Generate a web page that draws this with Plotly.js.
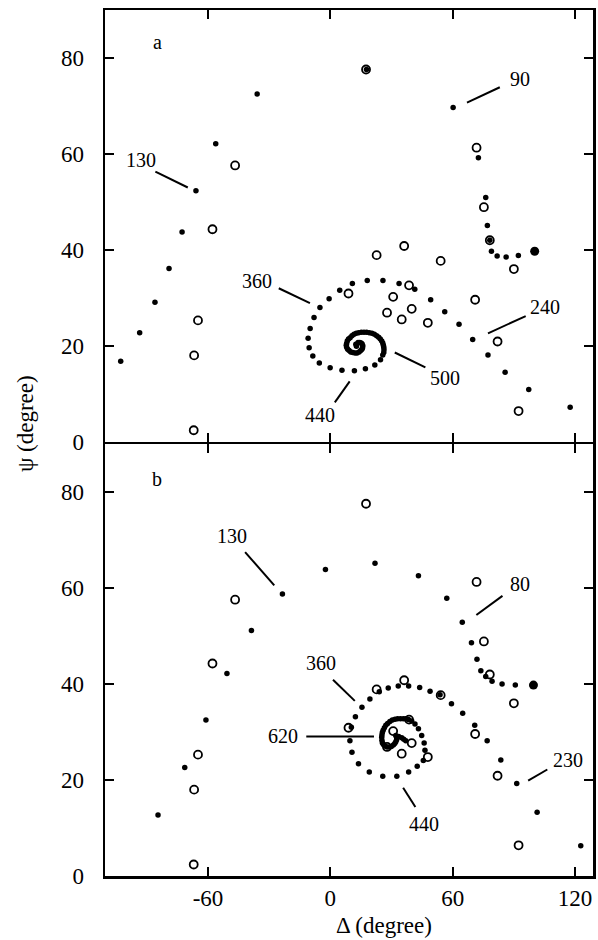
<!DOCTYPE html>
<html>
<head>
<meta charset="utf-8">
<script src="https://cdn.plot.ly/plotly-3.0.1.min.js"></script>
<style>html,body{margin:0;padding:0;background:#fff;}#chart{width:598px;height:940px;}</style>
</head>
<body>
<div id="chart"></div>
<script>
// Reference (open circles), identical in both panels
var refDelta = [17.5, -46.7, -57.8, -64.9, -66.8, -67.0, 71.7, 75.3, 78.2, 22.7, 36.2, 54.1, 90.0, 8.9, 30.8, 38.6, 27.8, 39.9, 35.0, 47.8, 71.0, 82.0, 92.3];
var refPsi   = [77.6, 57.6, 44.3, 25.3, 18.0, 2.4, 61.3, 48.9, 42.0, 38.9, 40.8, 37.7, 36.0, 30.9, 30.2, 32.6, 26.9, 27.7, 25.5, 24.8, 29.6, 20.9, 6.4];

// Panel a trajectory (filled dots)
var startADelta = [100.2];
var startAPsi = [39.7];
var trajADelta = [92.2, 86.2, 81.8, 79.0, 78.2, 77.0, 76.2, 72.6, 60.2, 17.7, -35.9, -56.2, -65.9, -72.7, -79.1, -86.0, -93.5, -102.8,
  117.6, 97.3, 85.7, 77.3, 69.8, 63.1, 56.1, 49.2, 41.4, 33.7, 25.8, 18.1, 10.8, 4.6, -0.6, -5.1, -8.0, -9.9, -10.9, -10.4, -8.6, -5.4, -0.1, 5.7, 11.8, 17.2, 21.8, 24.6,
  25.7, 26.2, 26.3, 26.2, 26.0, 25.7, 25.2, 24.5, 23.7, 22.7, 21.6, 20.4, 19.1, 17.8, 16.5, 15.2, 13.9, 12.7, 11.6, 10.6, 9.7, 8.9, 8.3, 8.0, 7.8, 8.0, 8.5, 9.2, 10.0, 11.0, 12.1, 13.1, 14.1, 14.9, 15.5, 15.8, 15.9, 15.6, 15.1, 14.4, 13.6, 12.5, 12.8];
var trajAPsi = [38.8, 38.5, 38.7, 39.7, 42.0, 45.1, 50.9, 59.2, 69.7, 77.6, 72.5, 62.1, 52.3, 43.7, 36.1, 29.1, 22.7, 16.8,
  7.2, 10.9, 14.5, 18.1, 21.3, 24.5, 27.1, 29.6, 31.8, 33.0, 33.6, 33.6, 33.0, 31.6, 29.8, 28.0, 25.9, 23.6, 21.6, 19.6, 17.9, 16.4, 15.4, 14.9, 14.8, 15.2, 16.0, 17.1,
  18.1, 18.6, 19.2, 19.7, 20.1, 20.6, 21.0, 21.4, 21.8, 22.1, 22.4, 22.6, 22.7, 22.8, 22.8, 22.8, 22.7, 22.6, 22.4, 22.1, 21.7, 21.4, 21.0, 20.5, 20.1, 19.7, 19.3, 19.0, 18.7, 18.6, 18.5, 18.5, 18.7, 19.0, 19.3, 19.6, 20.0, 20.4, 20.6, 20.7, 20.7, 20.3, 19.9];

// Panel b trajectory (filled dots)
var startBDelta = [99.6];
var startBPsi = [39.8];
var trajBDelta = [90.7, 84.2, 79.3, 76.2, 73.8, 71.9, 69.2, 64.7, 57.1, 43.2, 21.9, -2.4, -23.5, -38.7, -50.7, -61.0, -71.4, -84.5,
  122.8, 101.4, 91.4, 83.6, 76.9, 70.8, 64.9, 59.4, 53.8, 48.9, 43.8, 38.4, 33.3, 28.4, 24.0, 19.4, 15.5, 12.3, 10.3, 9.6, 10.6, 13.8, 19.1, 25.7, 32.6, 38.4, 42.6, 45.6, 46.4, 46.0, 44.8, 43.2, 41.5,
  39.9, 38.3, 37.0, 35.8, 34.4, 33.0, 31.7, 30.4, 29.2, 28.1, 27.2, 26.5, 25.9, 25.5, 25.3, 25.2, 25.3, 25.5, 26.0, 26.8, 27.8, 28.8, 29.9, 30.9, 31.6, 32.1, 32.5, 32.6, 32.4, 32.1, 33.5, 35.0, 36.0, 37.0];
var trajBPsi = [39.8, 40.0, 40.6, 41.6, 42.8, 45.2, 48.6, 52.9, 57.9, 62.6, 65.2, 63.9, 58.8, 51.2, 42.2, 32.5, 22.6, 12.7,
  6.3, 13.3, 19.3, 24.2, 28.2, 31.4, 33.9, 35.9, 37.8, 38.5, 39.3, 39.6, 39.6, 39.2, 38.4, 36.9, 35.2, 33.2, 31.0, 28.2, 25.8, 23.4, 21.7, 20.8, 20.8, 21.7, 22.9, 24.1, 26.2, 27.7, 29.3, 30.7, 31.7,
  32.3, 32.6, 32.8, 32.8, 32.8, 32.8, 32.7, 32.5, 32.2, 31.8, 31.4, 30.9, 30.4, 29.9, 29.4, 28.9, 28.3, 27.8, 27.4, 27.1, 26.9, 26.9, 27.0, 27.3, 27.6, 28.0, 28.4, 28.7, 29.1, 29.3, 29.1, 28.8, 28.5, 28.2];

// Step labels: text, position, leader line
var labelsA = ["90", "130", "360", "240", "500", "440"];
var labelAX = [92.9, -93.0, -36.1, 105.1, 56.1, -5.2];
var labelAY = [75.7, 58.8, 33.6, 28.1, 13.2, 5.6];
var leadAX0 = [67.0, -85.8, -25.3, 77.3, 31.6, 2.2];
var leadAY0 = [70.7, 56.3, 32.0, 22.6, 18.6, 8.2];
var leadAX1 = [83.1, -69.9, -10.0, 95.8, 46.6, 9.5];
var leadAY1 = [73.9, 53.0, 28.9, 26.2, 15.5, 12.6];

var labelsB = ["130", "620", "360", "80", "230", "440"];
var labelBX = [-48.4, -23.0, -4.7, 92.9, 116.6, 46.0];
var labelBY = [70.8, 29.1, 44.3, 60.9, 24.2, 10.9];
var leadBX0 = [-41.8, -11.8, 1.3, 71.6, 97.0, 35.7];
var leadBY0 = [67.5, 29.1, 40.9, 54.4, 19.9, 18.4];
var leadBX1 = [-27.5, 21.4, 12.0, 84.4, 106.4, 41.7];
var leadBY1 = [60.6, 29.1, 36.5, 58.4, 22.2, 14.4];

var xTicks = [-60, 0, 60, 120];
var yTicks = [0, 20, 40, 60, 80];

var FONT = "Liberation Serif, Times New Roman, serif";

function dots(x, y, xa, ya, size) {
  return {x: x, y: y, xaxis: xa, yaxis: ya, type: 'scatter', mode: 'markers', hoverinfo: 'skip',
    marker: {color: '#000', size: size, line: {width: 0}}, showlegend: false};
}
function rings(x, y, xa, ya) {
  return {x: x, y: y, xaxis: xa, yaxis: ya, type: 'scatter', mode: 'markers', hoverinfo: 'skip',
    marker: {symbol: 'circle-open', color: '#000', size: 8, line: {width: 1.8, color: '#000'}}, showlegend: false};
}

var data = [
  dots(trajADelta, trajAPsi, 'x2', 'y2', 5.5),
  dots(startADelta, startAPsi, 'x2', 'y2', 9),
  rings(refDelta, refPsi, 'x2', 'y2'),
  dots(trajBDelta, trajBPsi, 'x', 'y', 5.5),
  dots(startBDelta, startBPsi, 'x', 'y', 9),
  rings(refDelta, refPsi, 'x', 'y')
];

var shapes = [];
var annotations = [];
for (var i = 0; i < labelsA.length; i++) {
  shapes.push({type: 'line', xref: 'x2', yref: 'y2', x0: leadAX0[i], y0: leadAY0[i], x1: leadAX1[i], y1: leadAY1[i], line: {color: '#000', width: 2}});
  annotations.push({xref: 'x2', yref: 'y2', x: labelAX[i], y: labelAY[i], text: labelsA[i], showarrow: false, font: {family: FONT, size: 20, color: '#000'}});
}
for (var j = 0; j < labelsB.length; j++) {
  shapes.push({type: 'line', xref: 'x', yref: 'y', x0: leadBX0[j], y0: leadBY0[j], x1: leadBX1[j], y1: leadBY1[j], line: {color: '#000', width: 2}});
  annotations.push({xref: 'x', yref: 'y', x: labelBX[j], y: labelBY[j], text: labelsB[j], showarrow: false, font: {family: FONT, size: 20, color: '#000'}});
}
annotations.push({xref: 'x2', yref: 'y2', x: -85, y: 83.3, text: 'a', showarrow: false, font: {family: FONT, size: 20, color: '#000'}});
annotations.push({xref: 'x', yref: 'y', x: -85, y: 82.8, text: 'b', showarrow: false, font: {family: FONT, size: 20, color: '#000'}});
annotations.push({xref: 'paper', yref: 'paper', x: 0.572, y: -0.0566, text: 'Δ (degree)', showarrow: false, xanchor: 'center', yanchor: 'middle', font: {family: FONT, size: 23, color: '#000'}});
annotations.push({xref: 'paper', yref: 'paper', x: -0.164, y: 0.523, text: 'ψ (degree)', textangle: -90, showarrow: false, xanchor: 'center', yanchor: 'middle', font: {family: FONT, size: 23, color: '#000'}});

var xRange = [-110.5, 128.8];
var yRange = [0, 90];
var LW = 2.5;
var gap = LW / 866 / 2;
function xax(anchor, labels) {
  return {range: xRange, anchor: anchor, tickvals: xTicks, ticktext: xTicks.map(String), showticklabels: labels,
    ticks: 'inside', ticklen: 9, tickwidth: 2, tickcolor: '#000', showline: true, linewidth: LW, linecolor: '#000',
    mirror: 'ticks', showgrid: false, zeroline: false, ticklabelstandoff: 0,
    tickfont: {family: FONT, size: 23, color: '#000'}, fixedrange: true};
}
function yax(domain, anchor) {
  return {range: yRange, domain: domain, anchor: anchor, tickvals: yTicks, ticktext: yTicks.map(String),
    ticks: 'inside', ticklen: 9, tickwidth: 2, tickcolor: '#000', showline: true, linewidth: LW, linecolor: '#000',
    mirror: 'ticks', showgrid: false, zeroline: false, ticklabelstandoff: 14,
    tickfont: {family: FONT, size: 23, color: '#000'}, fixedrange: true};
}

var layout = {
  width: 598, height: 940,
  margin: {l: 105, r: 5, t: 10, b: 64},
  paper_bgcolor: '#fff', plot_bgcolor: '#fff',
  showlegend: false,
  xaxis: xax('y', true),
  xaxis2: xax('y2', false),
  yaxis: yax([0, 0.5 - gap], 'x'),
  yaxis2: yax([0.5 + gap, 1], 'x2'),
  shapes: shapes,
  annotations: annotations
};

Plotly.newPlot('chart', data, layout, {staticPlot: true, displayModeBar: false});
</script>
</body>
</html>
